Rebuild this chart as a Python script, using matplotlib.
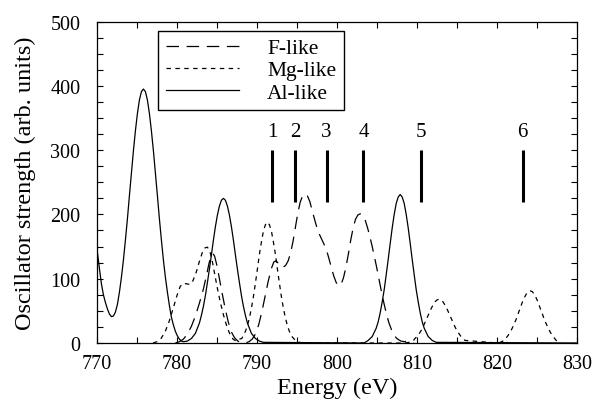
import matplotlib
matplotlib.use('Agg')
import matplotlib.pyplot as plt
from matplotlib.ticker import MultipleLocator

plt.rcParams.update({
    'font.family': ['Liberation Serif', 'DejaVu Serif'],
    'lines.scale_dashes': False,
})

# Al-like (solid)
al_e = [770.0, 770.3, 770.55, 770.8, 771.05, 771.3, 771.55, 771.8, 772.05, 772.3,
        772.55, 772.8, 773.05, 773.3, 773.55, 773.8, 774.05, 774.3, 774.55, 774.8,
        775.05, 775.3, 775.55, 775.8, 776.05, 776.3, 776.55, 776.8, 777.05, 777.3,
        777.55, 777.8, 778.05, 778.3, 778.55, 778.8, 779.05, 779.3, 779.55, 779.8,
        780.05, 780.3, 780.55, 780.8, 781.3, 781.8, 782.3, 782.8, 783.05, 783.3,
        783.55, 783.8, 784.05, 784.3, 784.55, 784.8, 785.05, 785.3, 785.55, 785.8,
        786.05, 786.3, 786.55, 786.8, 787.05, 787.3, 787.55, 787.8, 788.05, 788.3,
        788.55, 788.8, 789.3, 789.8, 790.3, 790.8, 803.4, 803.9, 804.4, 804.9,
        805.15, 805.4, 805.65, 805.9, 806.15, 806.4, 806.65, 806.9, 807.15, 807.4,
        807.65, 807.9, 808.15, 808.4, 808.65, 808.9, 809.15, 809.4, 809.65, 809.9,
        810.15, 810.4, 810.65, 810.9, 811.4, 811.9, 812.4, 830.0]
al_f = [146, 116, 92, 75, 63, 53, 45, 41, 42, 48,
        60, 79, 102, 129, 160, 193, 229, 264, 299, 330,
        357, 378, 391, 395, 391, 378, 357, 330, 299, 264,
        229, 193, 160, 129, 102, 79, 58, 40, 28, 18,
        11, 6, 3, 2, 3, 7, 15, 31, 43, 57,
        74, 94, 115, 137, 160, 181, 199, 213, 222, 225,
        222, 213, 199, 181, 160, 137, 115, 94, 74, 57,
        43, 31, 15, 7, 3, 1, 0, 4, 10, 23,
        33, 47, 64, 83, 106, 130, 155, 179, 200, 217,
        227, 231, 227, 217, 200, 179, 155, 130, 106, 83,
        64, 47, 33, 23, 10, 4, 1, 0]

# Mg-like (short dash)
mg_e = [777.0, 777.5, 778.0, 778.5, 779.0, 779.5, 780.0, 780.4, 780.8, 781.2,
        781.6, 782.0, 782.4, 782.8, 783.2, 783.5, 783.8, 784.1, 784.4, 784.7,
        785.0, 785.4, 785.8, 786.2, 786.6, 787.0, 787.4, 787.8, 788.1, 788.3,
        788.55, 788.8, 789.05, 789.3, 789.55, 789.8, 790.05, 790.3, 790.55, 790.8,
        791.05, 791.3, 791.55, 791.8, 792.05, 792.3, 792.55, 792.8, 793.05, 793.3,
        793.55, 793.8, 794.05, 794.3, 794.8, 795.3, 795.8, 808.5, 809.0, 809.5,
        809.75, 810.0, 810.25, 810.5, 810.75, 811.0, 811.25, 811.5, 811.75, 812.0,
        812.25, 812.5, 812.75, 813.0, 813.25, 813.5, 813.75, 814.0, 814.25, 814.5,
        814.75, 815.0, 815.5, 816.0, 820.0, 820.4, 820.9, 821.15, 821.4, 821.65,
        821.9, 822.15, 822.4, 822.65, 822.9, 823.15, 823.4, 823.65, 823.9, 824.15,
        824.4, 824.65, 824.9, 825.15, 825.4, 825.65, 825.9, 826.15, 826.4, 826.65,
        826.9, 827.4, 827.9]
mg_f = [0, 2, 7, 17, 33, 53, 74, 88, 93, 92,
        91, 97, 110, 127, 142, 148, 149, 143, 128, 108,
        88, 64, 44, 27, 14, 6, 3, 6, 7, 12,
        18, 27, 39, 54, 72, 93, 115, 138, 157, 174,
        184, 188, 184, 174, 157, 138, 115, 93, 72, 54,
        39, 27, 18, 11, 4, 1, 0, 0, 1, 3,
        7, 10, 14, 19, 25, 32, 39, 46, 53, 59,
        64, 67, 68, 67, 64, 59, 53, 46, 39, 32,
        25, 19, 10, 4, 0, 1, 4, 8, 12, 17,
        23, 30, 37, 46, 54, 63, 70, 76, 80, 81,
        80, 76, 70, 63, 54, 46, 37, 30, 23, 17,
        12, 4, 1]

# F-like (long dash)
f_e = [779.8, 780.3, 780.8, 781.3, 781.8, 782.3, 782.8, 783.3, 783.7, 784.0,
       784.3, 784.5, 784.7, 785.0, 785.3, 785.6, 786.0, 786.4, 786.8, 787.2,
       787.6, 788.0, 788.5, 789.0, 789.4, 789.8, 790.2, 790.6, 791.0, 791.4,
       791.8, 792.1, 792.4, 792.7, 793.0, 793.3, 793.6, 793.9, 794.2, 794.5,
       794.8, 795.1, 795.4, 795.7, 796.0, 796.3, 796.6, 796.9, 797.2, 797.5,
       797.8, 798.1, 798.4, 798.7, 799.0, 799.3, 799.6, 799.9, 800.2, 800.5,
       800.8, 801.1, 801.4, 801.7, 802.0, 802.3, 802.6, 802.9, 803.2, 803.5,
       803.8, 804.1, 804.4, 804.7, 805.0, 805.3, 805.6, 805.9, 806.2, 806.5,
       806.8, 807.1, 807.4, 807.7, 808.0, 808.4, 808.8, 809.2, 809.6]
f_f = [0, 2, 6, 14, 26, 42, 62, 84, 106, 124,
       137, 139, 135, 120, 100, 80, 55, 33, 17, 8,
       3, 1, 0, 2, 6, 14, 28, 48, 72, 96,
       116, 126, 128, 123, 118, 118, 121, 128, 140, 158,
       180, 202, 219, 229, 232, 229, 220, 206, 192, 179,
       169, 161, 153, 144, 131, 117, 104, 94, 89, 91,
       101, 117, 137, 159, 178, 192, 199, 201, 199, 192,
       180, 166, 150, 133, 115, 96, 77, 60, 44, 31,
       21, 13, 8, 5, 3, 2, 3, 1, 0]

# marked transitions
line_e = [791.9, 794.8, 798.7, 803.3, 810.5, 823.2]
line_lbl = ['1', '2', '3', '4', '5', '6']
bar_lo, bar_hi = 220, 300

fig = plt.figure(figsize=(5.97, 4.10), dpi=100)
ax = fig.add_axes([0.1625, 0.161, 0.804, 0.784])

ax.plot(f_e, f_f, color='black', lw=0.9, linestyle=(0, (9, 5.5)), label='F-like')
ax.plot(mg_e, mg_f, color='black', lw=0.9, linestyle=(0, (3.2, 3.2)), label='Mg-like')
ax.plot(al_e, al_f, color='black', lw=0.9, label='Al-like')

ax.vlines(line_e, bar_lo, bar_hi, colors='black', lw=2.2)
for e, s in zip(line_e, line_lbl):
    ax.text(e, 314, s, ha='center', va='bottom', fontsize=15)

ax.set_xlim(770, 830)
ax.set_ylim(0, 500)
ax.xaxis.set_major_locator(MultipleLocator(10))
ax.xaxis.set_minor_locator(MultipleLocator(5))
ax.yaxis.set_major_locator(MultipleLocator(100))
ax.yaxis.set_minor_locator(MultipleLocator(25))
ax.tick_params(which='both', direction='in', top=True, right=True,
               length=4, width=0.8, labelsize=14.5)
ax.tick_params(axis='y', pad=12)
ax.tick_params(axis='x', pad=8)
for sp in ax.spines.values():
    sp.set_linewidth(0.9)

ax.set_xlabel('Energy (eV)', fontsize=17.5, labelpad=3)
ax.set_ylabel('Oscillator strength (arb. units)', fontsize=17.5, labelpad=10)

leg = ax.legend(loc='upper left', bbox_to_anchor=(0.128, 0.972), fontsize=15.5,
                frameon=True, fancybox=False, edgecolor='black', framealpha=1,
                borderaxespad=0, handlelength=3.4, handletextpad=1.3,
                labelspacing=0.1, borderpad=0.35)
leg.get_frame().set_linewidth(1.0)

fig.savefig('out.png', dpi=100)
